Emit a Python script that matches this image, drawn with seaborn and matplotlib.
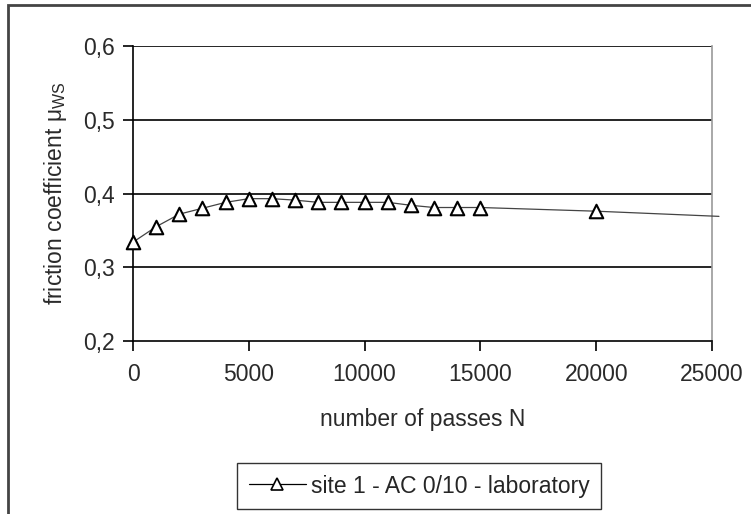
import matplotlib
matplotlib.use("Agg")
import matplotlib.pyplot as plt
import seaborn as sns
import pandas as pd
from matplotlib.lines import Line2D

sns.set_style("white")
plt.rcParams['font.family'] = ['Liberation Sans', 'DejaVu Sans']
plt.rcParams['mathtext.fontset'] = 'custom'
plt.rcParams['mathtext.rm'] = 'Liberation Sans'
plt.rcParams['mathtext.it'] = 'Liberation Sans'

# measured points (markers)
passes = [0, 1000, 2000, 3000, 4000, 5000, 6000, 7000, 8000, 9000,
          10000, 11000, 12000, 13000, 14000, 15000, 20000]
friction = [0.334, 0.355, 0.372, 0.380, 0.388, 0.393, 0.393, 0.391, 0.388, 0.388,
            0.388, 0.388, 0.384, 0.381, 0.381, 0.381, 0.376]
# line continues past the last marker
line_end_passes = [25300]
line_end_friction = [0.369]
series_label = "site 1 - AC 0/10 - laboratory"
y_ticks = [0.2, 0.3, 0.4, 0.5, 0.6]
x_ticks = [0, 5000, 10000, 15000, 20000, 25000]

df = pd.DataFrame({"N": passes, "mu": friction})
df_line = pd.DataFrame({"N": passes + line_end_passes, "mu": friction + line_end_friction})

FS = 16.5
TXT = "#2a2a2a"

fig = plt.figure(figsize=(7.51, 5.14), dpi=100)
ax = fig.add_axes([133 / 751, 173 / 514, 579 / 751, 295 / 514])

sns.lineplot(data=df_line, x="N", y="mu", ax=ax, color="#444444", linewidth=0.9,
             clip_on=False, zorder=3)
sns.scatterplot(data=df, x="N", y="mu", ax=ax, marker="^", s=95,
                facecolor="white", edgecolor="black", linewidth=1.5, zorder=4, clip_on=False)

ax.set_xlim(0, 25000)
ax.set_ylim(0.2, 0.6)
ax.set_yticks(y_ticks)
ax.set_yticklabels([f"{v:.1f}".replace(".", ",") for v in y_ticks])
ax.set_xticks(x_ticks)
ax.set_xticklabels([str(v) for v in x_ticks])
for y in y_ticks[1:]:
    ax.axhline(y, color="black", linewidth=1.2, zorder=1)

ax.tick_params(axis="both", direction="out", length=7, width=1.2, color="black",
               labelsize=FS, labelcolor=TXT, bottom=True, left=True)
ax.tick_params(axis="x", pad=9)
ax.tick_params(axis="y", pad=6)
for side in ["left", "bottom"]:
    ax.spines[side].set_color("black")
    ax.spines[side].set_linewidth(1.2)
ax.spines["top"].set_visible(False)
ax.spines["right"].set_color("#999999")
ax.spines["right"].set_linewidth(1.2)

ax.set_xlabel("number of passes N", fontsize=FS, color=TXT, labelpad=16)
ax.set_ylabel(r"friction coefficient μ$_{\mathrm{WS}}$", fontsize=FS, color=TXT, labelpad=10)

handle = Line2D([0], [0], color="black", linewidth=0.9, marker="^", markersize=8,
                markerfacecolor="white", markeredgecolor="black", markeredgewidth=1.2)
leg = fig.legend([handle], [series_label], loc="center", bbox_to_anchor=(419 / 751, 28 / 514),
                 fontsize=FS, frameon=True, fancybox=False, edgecolor="black",
                 handlelength=2.5, borderpad=0.5, handletextpad=0.2, borderaxespad=0)
leg.get_frame().set_linewidth(1.0)

# outer chart border
fig.add_artist(plt.Rectangle((8 / 751, -0.01), 1.0, (509 / 514) + 0.01,
                             transform=fig.transFigure, fill=False,
                             edgecolor="#444444", linewidth=2))

fig.savefig("out.png", dpi=100)
